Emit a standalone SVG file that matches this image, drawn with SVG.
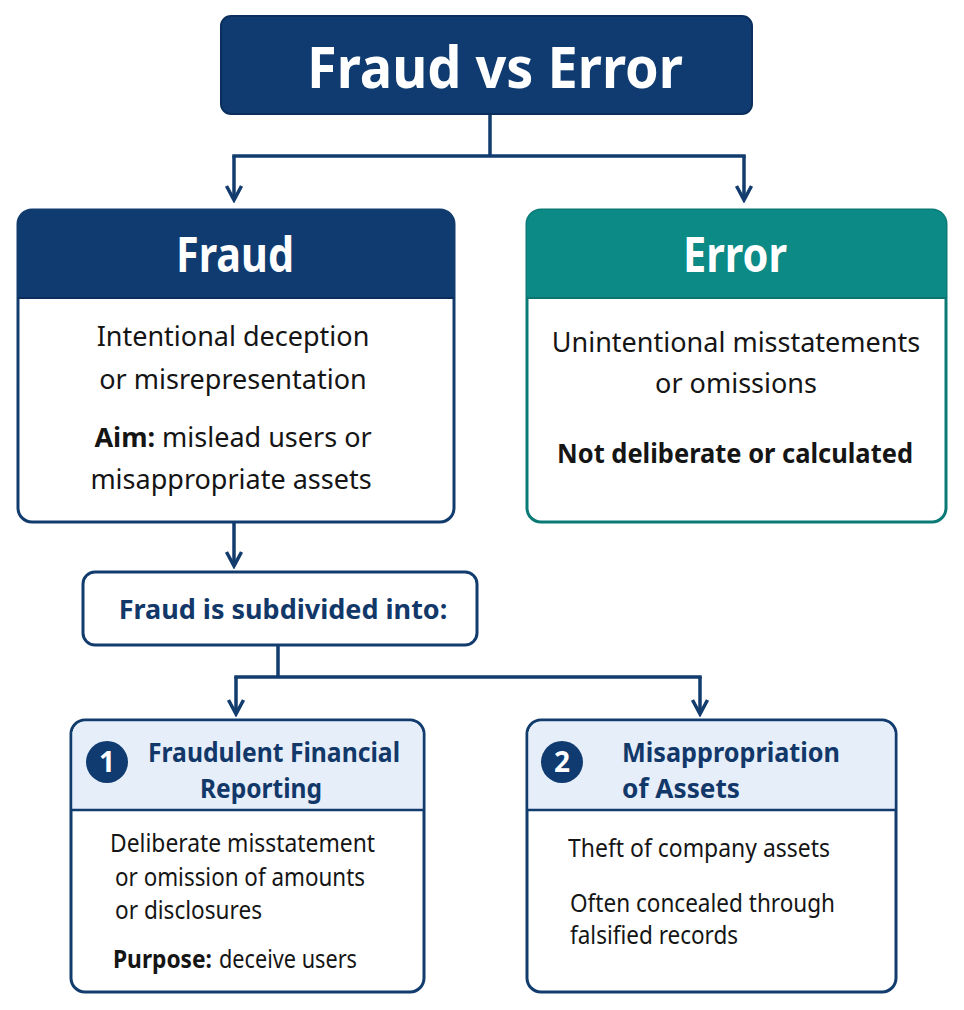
<svg xmlns="http://www.w3.org/2000/svg" width="964" height="1010" viewBox="0 0 964 1010">
<style>
.navyfill{fill:#0f3b70}
.box{fill:#ffffff;stroke:#123c6e;stroke-width:3}
.tealbox{fill:#ffffff;stroke:#0b7a77;stroke-width:3}
.wt{fill:#ffffff;font-family:"Noto Sans","Open Sans",sans-serif;font-weight:700;text-anchor:middle}
.body{fill:#151515;font-family:"Noto Sans","Open Sans",sans-serif;font-size:27px}
.sm{font-size:25.5px}
.mid{text-anchor:middle}
.b{font-weight:700}
.nv{fill:#12386a;font-family:"Noto Sans","Open Sans",sans-serif;font-weight:700;font-size:27px}
.conn{fill:none;stroke:#123c6e;stroke-width:3.5}
</style>
<defs>
<marker id="arr" viewBox="0 0 20 20" refX="17" refY="10" markerWidth="20" markerHeight="20" markerUnits="userSpaceOnUse" orient="auto">
<path d="M3,2.5 L17,10 L3,17.5" fill="none" stroke="#123c6e" stroke-width="3.5" stroke-linejoin="miter"/>
</marker>
</defs>
<rect width="964" height="1010" fill="#ffffff"/>
<g id="connectors">
<path class="conn" d="M490,114 V156 M232.25,156 H745.75"/>
<path class="conn" d="M234,156 V200" marker-end="url(#arr)"/>
<path class="conn" d="M744,156 V200" marker-end="url(#arr)"/>
<path class="conn" d="M234,522 V566" marker-end="url(#arr)"/>
<path class="conn" d="M278,645 V677 M234.25,677 H701.75"/>
<path class="conn" d="M236,677 V714" marker-end="url(#arr)"/>
<path class="conn" d="M700,677 V714" marker-end="url(#arr)"/>
</g>
<g id="title">
<rect x="221" y="16" width="531" height="98" rx="10" class="navyfill" stroke="#0b2f5c" stroke-width="2"/>
<text x="495" y="88" class="wt" font-size="58" textLength="376" lengthAdjust="spacingAndGlyphs">Fraud vs Error</text>
</g>
<g id="fraud">
<rect x="18" y="210" width="436" height="312" rx="14" class="box"/>
<path d="M18,298 V224 a14,14 0 0 1 14,-14 H440 a14,14 0 0 1 14,14 V298 Z" class="navyfill"/>
<line x1="18" y1="298" x2="454" y2="298" stroke="#0b2f5c" stroke-width="2"/>
<text x="235" y="272" class="wt" font-size="48" textLength="118" lengthAdjust="spacingAndGlyphs">Fraud</text>
<text x="233" y="346" class="body mid">Intentional deception</text>
<text x="233" y="389" class="body mid">or misrepresentation</text>
<text x="233" y="447" class="body mid"><tspan class="b">Aim:</tspan> mislead users or</text>
<text x="231" y="489" class="body mid">misappropriate assets</text>
</g>
<g id="error">
<rect x="527" y="210" width="419" height="312" rx="14" class="tealbox"/>
<path d="M527,298 V224 a14,14 0 0 1 14,-14 H932 a14,14 0 0 1 14,14 V298 Z" fill="#0b8a86"/>
<line x1="527" y1="298" x2="946" y2="298" stroke="#0b7470" stroke-width="2"/>
<text x="735" y="272" class="wt" font-size="48" textLength="104" lengthAdjust="spacingAndGlyphs">Error</text>
<text x="736" y="352" class="body mid">Unintentional misstatements</text>
<text x="736" y="393" class="body mid">or omissions</text>
<text x="735" y="463" class="body mid b" textLength="356" lengthAdjust="spacingAndGlyphs">Not deliberate or calculated</text>
</g>
<g id="subdivided">
<rect x="83" y="572" width="394" height="73" rx="12" class="box"/>
<text x="283" y="619" class="nv mid">Fraud is subdivided into:</text>
</g>
<g id="ffr">
<rect x="71" y="720" width="353" height="272" rx="14" class="box"/>
<path d="M72.5,810 V734 a12.5,12.5 0 0 1 12.5,-12.5 H410 a12.5,12.5 0 0 1 12.5,12.5 V810 Z" fill="#e6eef9"/>
<line x1="71" y1="810" x2="424" y2="810" stroke="#123c6e" stroke-width="2.5"/>
<circle cx="107" cy="762" r="21" class="navyfill"/>
<text x="107" y="772" class="wt" font-size="28">1</text>
<text x="148" y="762" class="nv" textLength="252" lengthAdjust="spacingAndGlyphs">Fraudulent Financial</text>
<text x="200" y="798" class="nv" textLength="122" lengthAdjust="spacingAndGlyphs">Reporting</text>
<text x="110" y="852" class="body sm" textLength="265" lengthAdjust="spacingAndGlyphs">Deliberate misstatement</text>
<text x="115" y="886" class="body sm" textLength="250" lengthAdjust="spacingAndGlyphs">or omission of amounts</text>
<text x="115" y="919" class="body sm" textLength="147" lengthAdjust="spacingAndGlyphs">or disclosures</text>
<text x="113" y="968" class="body sm b" textLength="99" lengthAdjust="spacingAndGlyphs">Purpose:</text>
<text x="219" y="968" class="body sm" textLength="138" lengthAdjust="spacingAndGlyphs">deceive users</text>
</g>
<g id="moa">
<rect x="527" y="720" width="369" height="272" rx="14" class="box"/>
<path d="M528.5,810 V734 a12.5,12.5 0 0 1 12.5,-12.5 H882 a12.5,12.5 0 0 1 12.5,12.5 V810 Z" fill="#e6eef9"/>
<line x1="527" y1="810" x2="896" y2="810" stroke="#123c6e" stroke-width="2.5"/>
<circle cx="562" cy="762" r="21" class="navyfill"/>
<text x="562" y="772" class="wt" font-size="28">2</text>
<text x="622" y="762" class="nv" textLength="218" lengthAdjust="spacingAndGlyphs">Misappropriation</text>
<text x="622" y="798" class="nv" textLength="118" lengthAdjust="spacingAndGlyphs">of Assets</text>
<text x="568" y="857" class="body sm" textLength="262" lengthAdjust="spacingAndGlyphs">Theft of company assets</text>
<text x="570" y="912" class="body sm" textLength="265" lengthAdjust="spacingAndGlyphs">Often concealed through</text>
<text x="570" y="944" class="body sm" textLength="168" lengthAdjust="spacingAndGlyphs">falsified records</text>
</g>
</svg>
